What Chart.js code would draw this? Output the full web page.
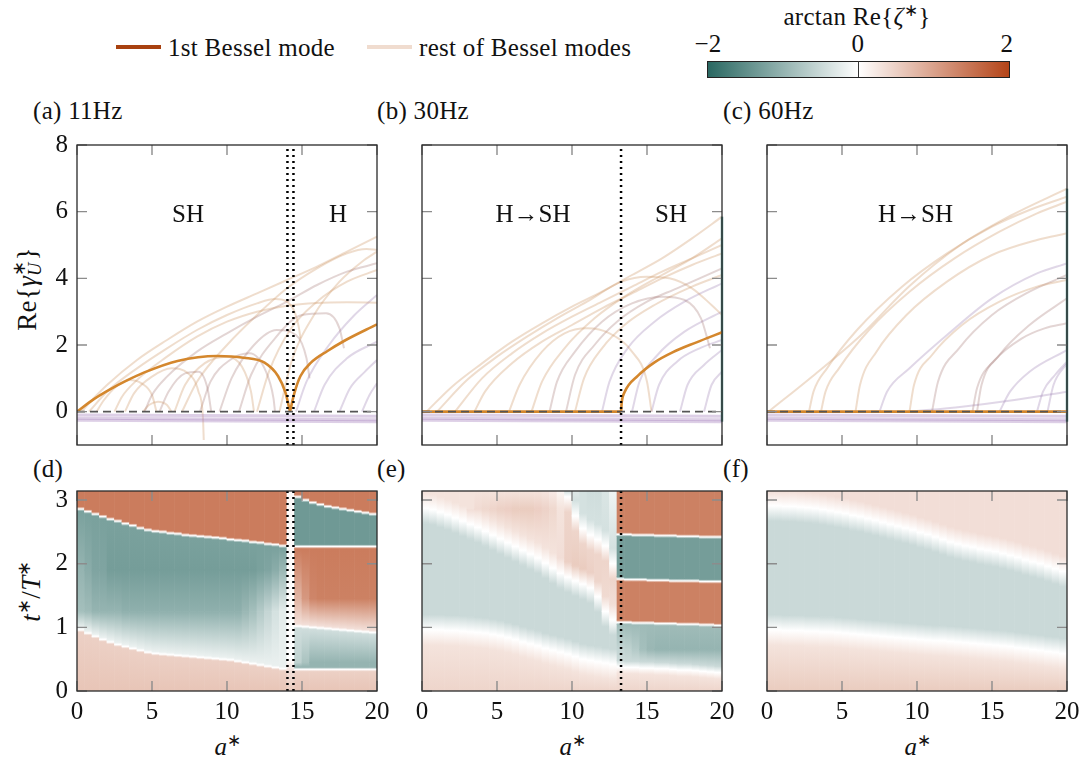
<!DOCTYPE html>
<html>
<head>
<meta charset="utf-8">
<script src="https://cdn.jsdelivr.net/npm/chart.js@4.4.1/dist/chart.umd.min.js"></script>
<style>
body{margin:0;background:#fff;width:1086px;height:763px;position:relative;overflow:hidden;font-family:'Liberation Serif',serif;color:#111}
canvas{position:absolute}
.t{position:absolute;font-size:25px;line-height:1;white-space:nowrap;letter-spacing:0.3px}
.c{transform:translate(-50%,-50%)}
.l{transform:translateY(-50%)}
.r{transform:translate(-50%,-50%) rotate(-90deg)}
sup{font-size:0.68em;vertical-align:0.5em;line-height:0}
.ss{display:inline-block;vertical-align:-0.3em;line-height:0.85;font-size:0.68em;text-align:left}
.sw{position:absolute;height:4px}
</style>
</head>
<body>
<div class="sw" style="left:116px;top:45px;width:45px;background:#a8410f"></div>
<div class="t l" style="left:168px;top:47px">1st Bessel mode</div>
<div class="sw" style="left:367px;top:45px;width:45px;background:#f0dccf"></div>
<div class="t l" style="left:419px;top:47px">rest of Bessel modes</div>

<div class="t c" style="left:857px;top:16px">arctan Re{<i>ζ</i><sup>∗</sup>}</div>
<div class="t c" style="left:708px;top:43px">−2</div>
<div class="t c" style="left:858px;top:43px">0</div>
<div class="t c" style="left:1007px;top:43px">2</div>
<div style="position:absolute;left:707px;top:61px;width:301px;height:15px;border:1px solid #222;background:linear-gradient(to right,rgb(42,104,98),#fff 50%,rgb(180,68,24))"></div>
<div style="position:absolute;left:858px;top:61px;width:1px;height:16px;background:#333"></div>

<div class="t l" style="left:33px;top:110px">(a) 11Hz</div>
<div class="t l" style="left:377px;top:110px">(b) 30Hz</div>
<div class="t l" style="left:723px;top:110px">(c) 60Hz</div>
<div class="t l" style="left:33px;top:468px">(d)</div>
<div class="t l" style="left:377px;top:468px">(e)</div>
<div class="t l" style="left:723px;top:468px">(f)</div>

<div class="t r" style="left:28px;top:289px;font-size:27px">Re{<i>γ</i><span class="ss">∗<br><i>U</i></span>}</div>
<div class="t r" style="left:31px;top:591px;font-size:27px"><i>t</i><sup>∗</sup>/<i>T</i><sup>∗</sup></div>
<div class="t c" style="left:228px;top:746px"><i>a</i><sup>∗</sup></div>
<div class="t c" style="left:573px;top:746px"><i>a</i><sup>∗</sup></div>
<div class="t c" style="left:918px;top:746px"><i>a</i><sup>∗</sup></div>

<script>
// ---------- data ----------
const xTicks = [0, 5, 10, 15, 20];
const yTicksTop = [0, 2, 4, 6, 8];
const yTicksHeat = [0, 1, 2, 3];

// transitions (dotted lines)
const splitA = [14.03, 14.43];
const splitB = [13.27];
const splitC = [];

// 1st Bessel mode
const mainA1 = [[0,0],[1.1,0.37],[2.2,0.67],[3.3,0.93],[4.45,1.17],[6.7,1.52],[9.35,1.67],[11.1,1.62],[12.5,1.47],[13.4,1.07],[13.9,0.57],[14.2,0]];
const mainA2 = [[14.2,0],[14.5,0.57],[14.9,1.07],[15.6,1.47],[16.7,1.82],[17.8,2.12],[20,2.62]];
const mainB1 = [[0,0],[13.27,0]];
const mainB2 = [[13.27,0],[13.32,0.3],[13.5,0.58],[14.4,1.08],[15.5,1.48],[16.7,1.78],[18.3,2.08],[20,2.38]];
const mainC1 = [[0,0],[20,0]];

// rest of Bessel modes
const restA = [
  [[0.3,0],[1,0.35],[2,0.8],[4,1.55],[6,2.15],[8,2.7],[10,3.15],[12,3.55],[14,3.95],[16,4.35],[18,4.8],[20,5.25]],
  [[0.8,0],[2,0.6],[4,1.3],[6,1.9],[8,2.45],[10,2.9],[12,3.25],[13.2,3.38],[14,3.3],[14.5,3.0],[14.8,2.5],[14.9,2.2]],
  [[2.5,0],[3,0.45],[4,0.95],[6,1.65],[8,2.25],[10,2.7],[12,3.0],[14,3.18],[16,3.26],[18,3.28],[20,3.27]],
  [[4.5,0],[5,0.5],[6,1.05],[8,1.8],[10,2.35],[12,2.85],[14,3.3],[16,3.8],[18,4.2],[20,4.45]],
  [[1.3,0],[1.8,0.35],[2.6,0.75],[3.5,0.95],[4.3,0.85],[5.0,0.5],[5.3,0]],
  [[3.2,0],[3.8,0.55],[5,1.05],[6.3,1.3],[7.4,1.15],[8.1,0.6],[8.4,-0.2],[8.45,-0.85]],
  [[4.4,0],[4.8,0.2],[5.4,0.3],[6.0,0.2],[6.3,0]],
  [[5.5,0],[6.1,0.6],[7.2,1.15],[8.1,1.2],[8.7,0.7],[8.95,0]],
  [[6.5,0],[7.2,0.8],[8.5,1.45],[10,1.65],[11,1.35],[11.6,0.6],[11.8,0]],
  [[8.2,0],[8.9,0.9],[10.2,1.55],[11.5,1.75],[12.6,1.2],[13.1,0.4],[13.2,0]],
  [[9.5,0],[10.3,1.0],[11.8,2.0],[13.3,2.45],[14.6,2.3],[15.3,1.6],[15.5,1.0]],
  [[10.8,0],[11.6,1.1],[13.2,2.2],[15,2.9],[16.6,2.95],[17.5,2.5],[17.8,1.9]],
  [[12,0],[12.8,1.2],[14.2,2.45],[16,3.3],[18,3.9],[20,4.25]],
  [[14.6,0],[15.3,0.9],[16.8,2.0],[18.5,2.9],[20,3.5]],
  [[15.8,0],[16.5,0.8],[18,1.6],[20,2.1]],
  [[17.5,0],[18.2,0.7],[19.2,1.2],[20,1.55]],
  [[19,0],[19.5,0.5],[20,0.85]],
  [[13.5,0],[14.3,1.5],[15.8,2.9],[17.5,3.9],[19,4.5],[20,4.8]],
  [[7,0],[8,0.9],[10,2.0],[12,2.9],[14,3.7],[16,4.3],[18,4.75],[19.3,4.88],[20,4.85]]
];
const restAKind = 'tttbtttbtbbbtpppptt';

const restB = [
  [[0.3,0],[2,0.75],[4,1.45],[6,2.1],[8,2.65],[10,3.15],[12,3.6],[14,4.1],[16,4.6],[18,5.2],[20,5.85]],
  [[1,0],[3,0.95],[5,1.65],[7,2.25],[9,2.8],[11,3.3],[13.3,3.9],[15,4.05],[16.5,4.0],[18,3.7],[19.3,3.2],[20,2.9]],
  [[2.2,0],[4,1.0],[6,1.75],[8,2.35],[10,2.85],[12,3.3],[14,3.75],[16,4.2],[18,4.6],[20,5.0]],
  [[3.5,0],[4.2,0.6],[6,1.45],[8,2.1],[10,2.6],[12,3.1],[14,3.55],[16,4.0],[18,4.4],[20,4.75]],
  [[5.8,0],[6.5,0.8],[8,1.8],[9.5,2.35],[11,2.5],[12.5,2.35],[14,1.8],[15,0.9],[15.3,0]],
  [[8.5,0],[9,0.9],[10.2,1.8],[12,2.7],[14,3.25],[16,3.45],[17.5,3.35],[18.6,2.8],[19.2,1.9]],
  [[9.6,0],[10.2,1.1],[11.5,2.0],[13,2.7],[15,3.3],[17,3.7],[20,4.3]],
  [[10.2,0],[10.8,1.0],[12,1.9],[13.5,2.6],[15.5,3.2],[18,3.75],[20,4.1]],
  [[12,0],[12.5,0.9],[13.7,1.9],[15.5,2.7],[17.5,3.3],[20,3.85]],
  [[14,0],[14.5,0.9],[15.7,1.7],[17.5,2.4],[20,3.0]],
  [[15.3,0],[15.8,0.8],[17,1.5],[18.5,1.9],[20,2.15]],
  [[17.2,0],[17.7,0.8],[18.8,1.4],[20,1.85]],
  [[18.8,0],[19.3,0.8],[20,1.2]],
  [[7.3,0],[8,0.9],[9.5,1.9],[11.5,2.8],[13.5,3.45],[16,4.1],[18,4.6],[20,5.2]]
];
const restBKind = 'tttttbbtpppppt';

const restC = [
  [[0.1,0],[3,1.05],[6.2,2.27],[9.5,3.77],[12.8,4.97],[16.2,5.87],[20,6.69]],
  [[2.8,0],[3.1,0.6],[4,1.3],[6,2.45],[9,3.75],[12,4.75],[15,5.55],[17.5,6.05],[20,6.45]],
  [[3.6,0],[3.9,0.6],[4.8,1.3],[6.8,2.45],[9.5,3.6],[12.5,4.6],[15.5,5.4],[18,5.95],[20,6.3]],
  [[5.9,0],[6.2,0.8],[7.3,1.8],[9.3,2.9],[12,3.9],[15,4.7],[18,5.15],[20,5.35]],
  [[7.5,0],[8.0,0.6],[9.5,1.3],[12,2.3],[15,3.4],[18,4.15],[20,4.45]],
  [[9.5,0],[9.8,0.8],[11,1.7],[13,2.6],[15.5,3.3],[18,3.75],[20,3.95]],
  [[11,0],[11.4,0.9],[12.8,1.9],[15,2.9],[17.5,3.6],[20,4.1]],
  [[13.7,0],[14.0,0.7],[15.2,1.55],[17,2.2],[18.5,2.5],[20,2.65]],
  [[14,0],[14.3,0.8],[15.5,1.7],[17.5,2.6],[20,3.4]],
  [[9.5,0],[13,0.15],[16.5,0.35],[20,0.6]],
  [[18,0],[18.4,0.6],[19.2,1.1],[20,1.5]],
  [[18.7,0],[19.1,0.8],[20,1.45]],
  [[15.5,0],[16.2,0.6],[17.5,1.2],[20,1.85]]
];
const restCKind = 'ttttptbbbpppp';

// negative branches bunched just under zero
const floorLines = [
  [[0,-0.1],[20,-0.14]],
  [[0,-0.2],[20,-0.24]],
  [[0,-0.26],[20,-0.3]]
];
const edgeB = [[20,-0.3],[20,5.85]];
const edgeC = [[20,-0.3],[20,6.69]];

const labelsA = [{x:7.4, y:5.9, text:'SH'}, {x:17.4, y:5.9, text:'H'}];
const labelsB = [{x:7.4, y:5.9, text:'H→SH'}, {x:16.6, y:5.9, text:'SH'}];
const labelsC = [{x:9.9, y:5.9, text:'H→SH'}];

// heat map columns (a*)
const colA = [0.25,0.75,1.25,1.75,2.25,2.75,3.25,3.75,4.25,4.75,5.25,5.75,6.25,6.75,7.25,7.75,8.25,8.75,9.25,9.75,
              10.25,10.75,11.25,11.75,12.25,12.75,13.25,13.75,14.25,14.75,15.25,15.75,16.25,16.75,17.25,17.75,18.25,18.75,19.25,19.75];

// panel (d): boundaries in t*/T* and levels of arctan Re{zeta*}
const dB1 = [0.96,0.91,0.86,0.81,0.77,0.73,0.70,0.67,0.64,0.61,0.59,0.58,0.57,0.56,0.55,0.54,0.53,0.52,0.51,0.50,0.49,0.47,0.45,0.43,0.41,0.39,0.37,0.35];
const dB2 = [2.86,2.82,2.78,2.74,2.70,2.67,2.63,2.60,2.56,2.53,2.51,2.50,2.48,2.47,2.45,2.44,2.43,2.42,2.41,2.40,2.38,2.37,2.36,2.34,2.33,2.31,2.30,2.28];
const dMidLo = [-0.85,-0.9,-1.0,-1.0,-1.0,-1.0,-1.05,-1.05,-1.05,-1.05,-1.05,-1.05,-1.05,-1.05,-1.05,-1.05,-1.05,-1.05,-1.05,-1.05,-1.05,-1.05,-0.95,-0.85,-0.7,-0.55,-0.4,-0.25];
const dMidHi = [-1.0,-1.1,-1.2,-1.2,-1.3,-1.3,-1.3,-1.3,-1.3,-1.3,-1.3,-1.3,-1.3,-1.3,-1.3,-1.3,-1.3,-1.3,-1.3,-1.3,-1.3,-1.3,-1.3,-1.3,-1.25,-1.2,-1.1,-0.95];
const dR2 = [1.02,1.01,1.0,0.99,0.98,0.97,0.96,0.95,0.94,0.93,0.92];
const dR4 = [3.05,3.0,2.96,2.93,2.90,2.88,2.86,2.84,2.82,2.80,2.78];
const dRTeal = [-0.6,-0.8,-1.0,-1.0,-1.0,-1.0,-1.0,-1.0,-1.0,-1.0,-1.0];
const dROrange = [0.8,1.1,1.3,1.35,1.35,1.35,1.35,1.35,1.35,1.35,1.35];

// panel (e)
const eE1 = [0.96,0.96,0.96,0.95,0.95,0.94,0.93,0.92,0.91,0.89,0.87,0.84,0.81,0.77,0.74,0.71,0.67,0.64,0.61,0.58,0.54,0.50,0.48,0.46,0.44,0.42];
const eE2 = [2.87,2.85,2.81,2.77,2.72,2.67,2.62,2.57,2.51,2.45,2.39,2.33,2.27,2.21,2.15,2.09,2.01,1.93,1.85,1.79,1.73,1.68,1.62,1.48,1.25,1.12];
const eE2Hi = [0.3,0.3,0.3,0.3,0.3,0.3,0.3,0.3,0.3,0.3,0.3,0.3,0.3,0.3,0.3,0.3,0.3,0.3,0.35,0.5,0.55,0.55,0.5,0.45,0.4,0.35];
const eRidge = [0.35,0.38,0.42,0.46,0.5,0.52,0.55,0.55,0.55,0.52,0.48,0.42,0.3];
const eTop = [0.3,0.3,0.3,0.3,0.3,0.3,0.3,0.3,0.3,0.3,0.3,0.3,0.3,0.3,0.3,0.3,0.28,0.22,0.1];
const eE3 = [3.05,2.75,2.55,2.45,2.38,2.28,2.0];
const eTop2 = [0.05,-0.3,-0.4,-0.45,-0.45,-0.35,-0.15];
const eR1 = [0.38,0.37,0.37,0.36,0.36,0.35,0.35,0.34,0.33,0.33,0.32,0.31,0.30,0.29];
const eRTeal = [-0.55,-0.6,-0.7,-0.85,-0.95,-1.0,-1.0,-1.0,-1.0,-1.0,-1.0,-1.0,-1.0,-1.0];
const eR2 = [1.08,1.08,1.07,1.07,1.07,1.06,1.06,1.06,1.05,1.05,1.05,1.04,1.04,1.03];
const eR3 = [1.76,1.75,1.75,1.75,1.74,1.74,1.74,1.73,1.73,1.73,1.73,1.72,1.72,1.72];
const eR4 = [2.46,2.46,2.45,2.45,2.45,2.44,2.44,2.44,2.43,2.43,2.43,2.42,2.42,2.42];

// panel (f)
const fF1 = [0.96,0.96,0.95,0.95,0.95,0.94,0.94,0.93,0.93,0.92,0.91,0.90,0.89,0.88,0.87,0.86,0.85,0.84,0.83,0.82,
             0.81,0.80,0.79,0.79,0.78,0.77,0.76,0.75,0.74,0.73,0.72,0.71,0.70,0.68,0.67,0.65,0.64,0.62,0.61,0.59];
const fF2 = [2.91,2.91,2.90,2.90,2.89,2.88,2.87,2.85,2.83,2.81,2.79,2.76,2.74,2.71,2.68,2.65,2.62,2.59,2.56,2.53,
             2.49,2.46,2.42,2.38,2.34,2.31,2.28,2.26,2.23,2.21,2.19,2.16,2.13,2.10,2.06,2.03,2.00,1.96,1.92,1.88];

const PI = Math.PI;
const tracksD = [
  {from:0, to:27, t:0, v:0.62},
  {from:0, to:27, kind:'line', t:dB1, lo:0.5, hi:-0.2},
  {from:0, to:27, t:1.25, v:dMidLo},
  {from:0, to:27, t:1.9, v:dMidHi},
  {from:0, to:27, kind:'line', t:dB2, lo:-1.25, hi:1.4},
  {from:0, to:27, t:PI, v:1.4},
  {from:28, to:28, t:0, v:0.55},
  {from:28, to:28, t:0.3, v:0.35},
  {from:28, to:28, t:0.5, v:0},
  {from:28, to:28, t:PI, v:0.05},
  {from:29, to:39, t:0, v:0.62},
  {from:29, to:39, kind:'line', t:0.34, lo:0.5, hi:-1.0},
  {from:29, to:39, t:0.45, v:dRTeal},
  {from:29, to:39, kind:'line', t:dR2, lo:-0.45, hi:0.35},
  {from:29, to:39, t:1.45, v:dROrange},
  {from:29, to:39, kind:'line', t:2.27, lo:1.4, hi:-1.35},
  {from:29, to:39, kind:'line', t:dR4, lo:-1.35, hi:1.4},
  {from:29, to:39, t:PI, v:1.4}
];
const tracksE = [
  {from:0, to:25, t:0, v:0.45},
  {from:0, to:25, kind:'soft', t:eE1, lo:0.3, hi:-0.5},
  {from:0, to:25, kind:'soft', t:eE2, lo:-0.5, hi:eE2Hi},
  {from:6, to:18, t:2.85, v:eRidge},
  {from:0, to:18, t:PI, v:eTop},
  {from:19, to:25, kind:'soft', t:eE3, lo:0.45, hi:-0.4},
  {from:19, to:25, t:PI, v:eTop2},
  {from:26, to:39, t:0, v:0.45},
  {from:26, to:39, kind:'fade', t:eR1, lo:0.3, hi:-0.5},
  {from:26, to:39, t:0.65, v:eRTeal},
  {from:26, to:39, kind:'line', t:eR2, lo:-0.9, hi:1.35},
  {from:26, to:39, kind:'line', t:eR3, lo:1.35, hi:-1.3},
  {from:26, to:39, kind:'line', t:eR4, lo:-1.3, hi:1.35},
  {from:26, to:39, t:PI, v:1.35}
];
const tracksF = [
  {from:0, to:39, t:0, v:0.55},
  {from:0, to:39, kind:'soft', t:fF1, lo:0.3, hi:-0.5},
  {from:0, to:39, kind:'soft', t:fF2, lo:-0.5, hi:0.35},
  {from:0, to:39, t:PI, v:0.35}
];

// ---------- styling and drawing ----------
Chart.defaults.animation = false;
Chart.defaults.font.family = 'Liberation Serif';
Chart.defaults.font.size = 25;
Chart.defaults.color = '#111';

const EDGE = {line: 0.035, fade: 0.1, soft: 0.24};
const shade = {t: 'rgba(205,148,98,0.32)', b: 'rgba(150,100,95,0.27)', p: 'rgba(140,108,165,0.27)'};
const mainColor = '#d4872d';

function cmap(v) {
  const f = Math.min(Math.abs(v) / 2, 1);
  const end = v < 0 ? [42,104,98] : [180,68,24];
  return 'rgb(' + end.map(e => Math.round(255 + (e - 255) * f)).join(',') + ')';
}

function columnNodes(tracks, c) {
  const nodes = [];
  tracks.forEach(tr => {
    if (c < tr.from || c > tr.to) return;
    const pick = q => Array.isArray(q) ? q[c - tr.from] : q;
    const t = pick(tr.t);
    if (tr.kind) {
      const w = EDGE[tr.kind];
      nodes.push([t - w, pick(tr.lo)], [t, 0], [t + w, pick(tr.hi)]);
    } else {
      nodes.push([t, pick(tr.v)]);
    }
  });
  nodes.forEach(n => { n[0] = Math.min(Math.max(n[0], 0), PI); });
  nodes.sort((p, q) => p[0] - q[0]);
  return nodes;
}

function heatSegments(tracks) {
  const segs = [];
  colA.forEach((a, c) => {
    const n = columnNodes(tracks, c);
    for (let i = 0; i < n.length - 1; i++) {
      if (n[i + 1][0] - n[i][0] < 1e-4) continue;
      segs.push({x: a, y: [n[i][0], n[i + 1][0]], v0: n[i][1], v1: n[i + 1][1]});
    }
  });
  return segs;
}

// flat fallback colour; the vertical gradient is set just before drawing
function heatFill(ctx) {
  const r = ctx.raw;
  if (!r || !r.y) return 'rgba(0,0,0,0)';
  return cmap((r.v0 + r.v1) / 2);
}

const heatPlugin = {
  id: 'heatShade',
  beforeDatasetsDraw(chart) {
    const c2 = chart.ctx;
    chart.data.datasets.forEach((ds, i) => {
      if (ds.type !== 'bar') return;
      chart.getDatasetMeta(i).data.forEach((el, j) => {
        const r = ds.data[j];
        const y0 = el.base, y1 = el.y;
        if (!isFinite(y0) || !isFinite(y1) || Math.abs(y1 - y0) < 0.01) return;
        const g = c2.createLinearGradient(0, y0, 0, y1);
        g.addColorStop(0, cmap(r.v0));
        g.addColorStop(1, cmap(r.v1));
        try { el.options.backgroundColor = g; } catch (e) {}
      });
    });
  }
};

const pts = arr => arr.map(([x, y]) => ({x, y}));

const framePlugin = {
  id: 'frame',
  afterDatasetsDraw(chart, args, opts) {
    const {ctx, chartArea: a, scales: {x, y}} = chart;
    ctx.save();
    ctx.strokeStyle = '#8c8c8c';
    ctx.lineWidth = 1.4;
    ctx.beginPath();
    opts.xt.forEach(v => {
      const px = x.getPixelForValue(v);
      ctx.moveTo(px, a.bottom); ctx.lineTo(px, a.bottom - 10);
      ctx.moveTo(px, a.top); ctx.lineTo(px, a.top + 10);
    });
    opts.yt.forEach(v => {
      const py = y.getPixelForValue(v);
      ctx.moveTo(a.left, py); ctx.lineTo(a.left + 10, py);
      ctx.moveTo(a.right, py); ctx.lineTo(a.right - 10, py);
    });
    ctx.stroke();
    ctx.fillStyle = '#111';
    ctx.font = '25px "Liberation Serif"';
    ctx.textAlign = 'center';
    ctx.textBaseline = 'middle';
    (opts.labels || []).forEach(l => ctx.fillText(l.text, x.getPixelForValue(l.x), y.getPixelForValue(l.y)));
    ctx.strokeStyle = '#2a2a2a';
    ctx.lineWidth = 1.3;
    ctx.strokeRect(a.left, a.top, a.width, a.height);
    ctx.restore();
  }
};

function axis(min, max, ticks, show, isX) {
  return {
    type: 'linear', min, max, offset: false,
    grid: {display: false, drawTicks: false},
    border: {display: false},
    ticks: {display: show, padding: isX ? 6 : 9, maxRotation: 0, autoSkip: false},
    afterBuildTicks: s => { s.ticks = ticks.map(v => ({value: v})); },
    afterFit: s => {
      if (isX) { s.height = 40; s.paddingLeft = 0; s.paddingRight = 0; }
      else { s.width = 60; s.paddingTop = 0; s.paddingBottom = 0; }
    }
  };
}

function makeChart(r, cfg, extraPlugins) {
  const cv = document.createElement('canvas');
  cv.width = r.w + 75;
  cv.height = r.h + 55;
  cv.style.left = (r.l - 60) + 'px';
  cv.style.top = (r.t - 15) + 'px';
  document.body.appendChild(cv);
  cfg.options.responsive = false;
  cfg.options.events = [];
  cfg.options.layout = {padding: {left: 0, right: 15, top: 15, bottom: 0}};
  cfg.plugins = [framePlugin].concat(extraPlugins || []);
  return new Chart(cv, cfg);
}

const lineSet = (data, color, width, order, extra) => Object.assign({
  type: 'line', data: pts(data), borderColor: color, borderWidth: width,
  pointRadius: 0, fill: false, order
}, extra || {});

const dotted = (x, y0, y1) => lineSet([[x, y0], [x, y1]], '#000', 2.5, 0, {borderDash: [2, 4]});

function topChart(r, rest, kinds, mains, splits, labels, edge, showY) {
  const sets = [];
  splits.forEach(s => sets.push(dotted(s, -1, 8)));
  sets.push(lineSet([[0, 0], [20, 0]], '#555', 1.6, 0, {borderDash: [8, 5]}));
  mains.forEach(m => sets.push(lineSet(m, mainColor, 2.6, 1, {cubicInterpolationMode: 'monotone'})));
  if (edge) sets.push(lineSet(edge, '#4e8783', 2.4, 2, {clip: false}));
  floorLines.forEach(f => sets.push(lineSet(f, 'rgba(165,130,190,0.38)', 3, 3)));
  rest.forEach((c, i) => sets.push(lineSet(c, shade[kinds[i]], 2, 4, {cubicInterpolationMode: 'monotone'})));
  return makeChart(r, {
    type: 'line',
    data: {datasets: sets},
    options: {
      scales: {x: axis(0, 20, xTicks, false, true), y: axis(-1, 8, yTicksTop, showY, false)},
      plugins: {legend: {display: false}, tooltip: {enabled: false}, frame: {xt: xTicks, yt: yTicksTop, labels}}
    }
  });
}

function heatChart(r, tracks, splits, showY) {
  const sets = splits.map(s => dotted(s, 0, PI));
  sets.push({type: 'bar', data: heatSegments(tracks), backgroundColor: heatFill, borderWidth: 0,
             barPercentage: 1, categoryPercentage: 1, order: 10});
  return makeChart(r, {
    type: 'bar',
    data: {datasets: sets},
    options: {
      scales: {x: axis(0, 20, xTicks, true, true), y: axis(0, PI, yTicksHeat, showY, false)},
      plugins: {legend: {display: false}, tooltip: {enabled: false}, frame: {xt: xTicks, yt: yTicksHeat}}
    }
  }, [heatPlugin]);
}

const rowTop = 145, rowTopH = 300, rowBot = 491, rowBotH = 200;
const colL = [77, 422, 767], colW = 300;

topChart({l: colL[0], t: rowTop, w: colW, h: rowTopH}, restA, restAKind, [mainA1, mainA2], splitA, labelsA, null, true);
topChart({l: colL[1], t: rowTop, w: colW, h: rowTopH}, restB, restBKind, [mainB1, mainB2], splitB, labelsB, edgeB, false);
topChart({l: colL[2], t: rowTop, w: colW, h: rowTopH}, restC, restCKind, [mainC1], splitC, labelsC, edgeC, false);

heatChart({l: colL[0], t: rowBot, w: colW, h: rowBotH}, tracksD, splitA, true);
heatChart({l: colL[1], t: rowBot, w: colW, h: rowBotH}, tracksE, splitB, false);
heatChart({l: colL[2], t: rowBot, w: colW, h: rowBotH}, tracksF, splitC, false);
</script>
</body>
</html>
